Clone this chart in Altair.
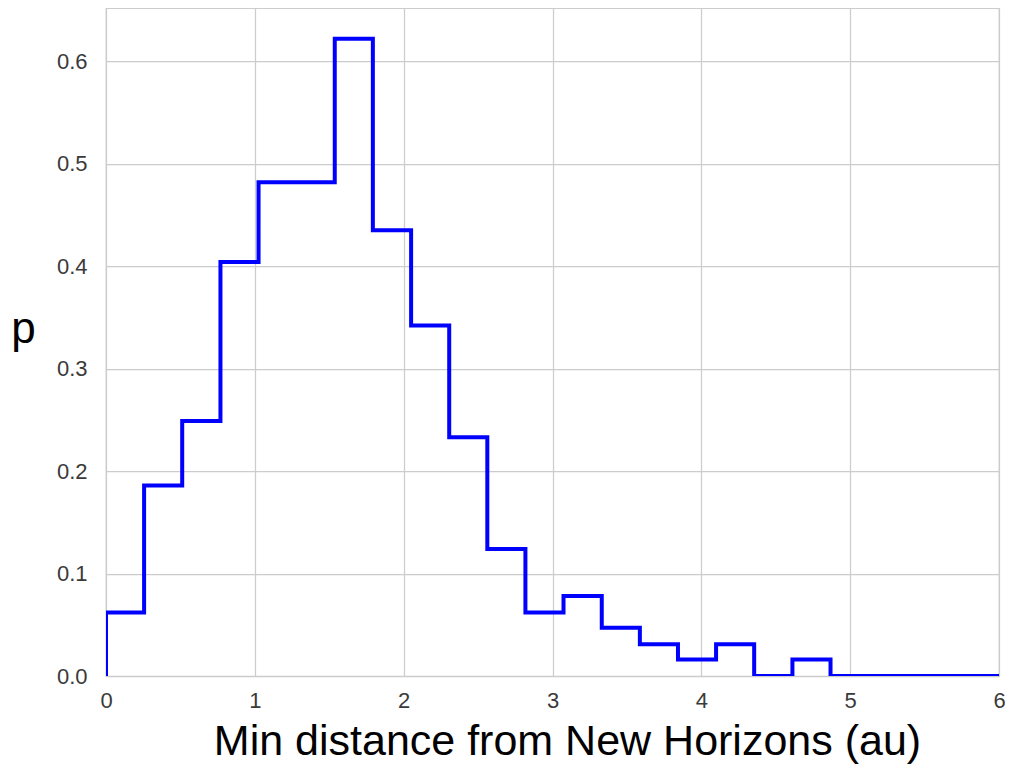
import altair as alt
import pandas as pd

# Histogram (step)
bin_edges = [0.0, 0.256, 0.512, 0.769, 1.025, 1.281, 1.537, 1.793, 2.050, 2.306,
             2.562, 2.818, 3.074, 3.331, 3.587, 3.843, 4.099, 4.355, 4.612, 4.868, 6.0]
density = [0.062, 0.186, 0.249, 0.404, 0.482, 0.482, 0.622, 0.435, 0.342, 0.233,
           0.124, 0.062, 0.078, 0.047, 0.031, 0.016, 0.031, 0.0, 0.016, 0.0]

x_ticks = [0, 1, 2, 3, 4, 5, 6]
y_ticks = [0.0, 0.1, 0.2, 0.3, 0.4, 0.5, 0.6]

rows = [{"x": bin_edges[0], "p": 0.0}]
for left, right, v in zip(bin_edges[:-1], bin_edges[1:], density):
    rows.append({"x": left, "p": v})
    rows.append({"x": right, "p": v})
df = pd.DataFrame(rows)
df["i"] = range(len(df))

FONT = "Liberation Sans"

chart = alt.Chart(df).mark_line(
    color="#0000ff", strokeWidth=4, clip=True, strokeJoin="miter", strokeCap="butt"
).encode(
    x=alt.X("x:Q", scale=alt.Scale(domain=[0, 6], nice=False, zero=False),
            axis=alt.Axis(values=x_ticks, format="d", title="Min distance from New Horizons (au)",
                          labelPadding=14, labelFlush=False, titleY=78, titleX=461,
                          titleAlign="center", titleBaseline="alphabetic", titleFontSize=43,
                          titleFont=FONT, titleFontWeight="normal", titleColor="#000000")),
    y=alt.Y("p:Q", scale=alt.Scale(domain=[0, 0.652], nice=False),
            axis=alt.Axis(values=y_ticks, format=".1f", title="p", titleAngle=0,
                          titleX=-83, titleY=334, titleAlign="center", titleBaseline="alphabetic",
                          titleFontSize=44, titleFont=FONT, titleFontWeight="normal",
                          titleColor="#000000", labelPadding=19, labelFlush=False)),
    order="i:Q",
).properties(
    width=893, height=668,
    autosize=alt.AutoSizeParams(type="none"),
    padding={"left": 98, "top": 0, "right": 6, "bottom": 88},
).configure_view(
    stroke="#cccccc", strokeWidth=1.25
).configure_axis(
    grid=True, gridColor="#cccccc", gridWidth=1.25, domain=False, ticks=False, tickSize=0,
    labelFont=FONT, labelFontSize=22, labelColor="#3a3a3a",
)

chart.save("out.html", embed_options={"renderer": "svg", "actions": False})
